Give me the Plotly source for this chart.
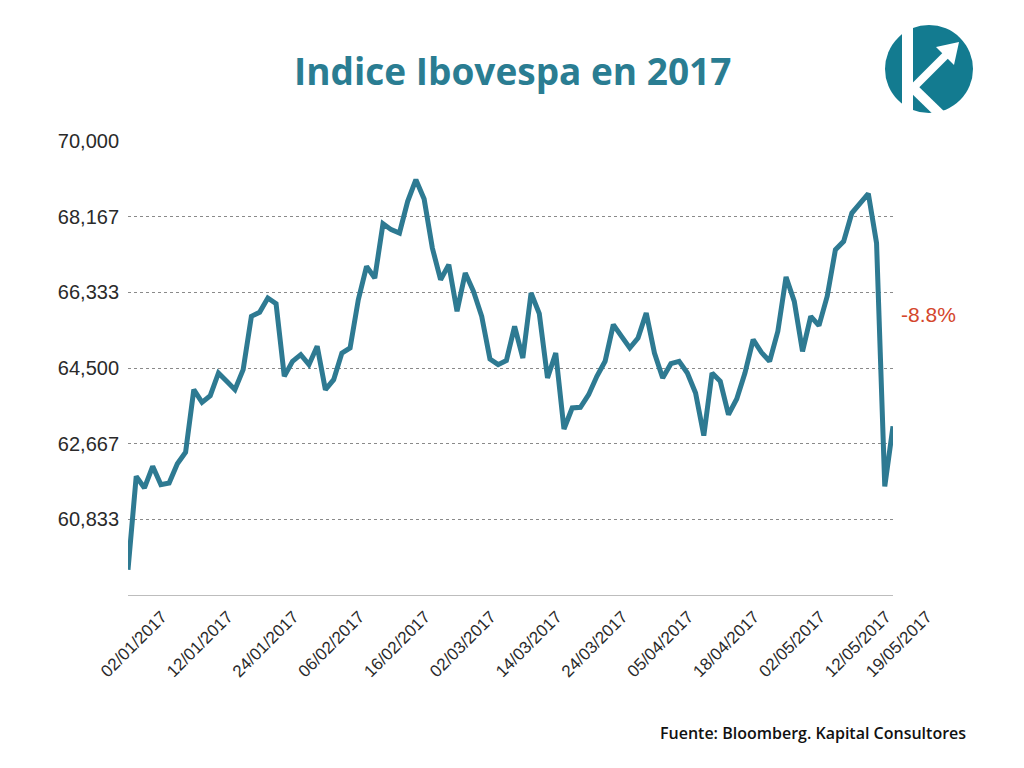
import plotly.graph_objects as go

# ---------------- data ----------------
dates = [
    "02/01/2017", "03/01/2017", "04/01/2017", "05/01/2017", "06/01/2017", "09/01/2017",
    "10/01/2017", "11/01/2017", "12/01/2017", "13/01/2017", "16/01/2017", "17/01/2017",
    "18/01/2017", "19/01/2017", "20/01/2017", "23/01/2017", "24/01/2017", "26/01/2017",
    "27/01/2017", "30/01/2017", "31/01/2017",
    "01/02/2017", "02/02/2017", "03/02/2017", "06/02/2017", "07/02/2017", "08/02/2017",
    "09/02/2017", "10/02/2017", "13/02/2017", "14/02/2017", "15/02/2017", "16/02/2017",
    "17/02/2017", "20/02/2017", "21/02/2017", "22/02/2017", "23/02/2017", "24/02/2017",
    "01/03/2017", "02/03/2017", "03/03/2017", "06/03/2017", "07/03/2017", "08/03/2017",
    "09/03/2017", "10/03/2017", "13/03/2017", "14/03/2017", "15/03/2017", "16/03/2017",
    "17/03/2017", "20/03/2017", "21/03/2017", "22/03/2017", "23/03/2017", "24/03/2017",
    "27/03/2017", "28/03/2017", "29/03/2017", "30/03/2017", "31/03/2017",
    "03/04/2017", "04/04/2017", "05/04/2017", "06/04/2017", "07/04/2017", "10/04/2017",
    "11/04/2017", "12/04/2017", "13/04/2017", "17/04/2017", "18/04/2017", "19/04/2017",
    "20/04/2017", "24/04/2017", "25/04/2017", "26/04/2017", "27/04/2017", "28/04/2017",
    "02/05/2017", "03/05/2017", "04/05/2017", "05/05/2017", "08/05/2017", "09/05/2017",
    "10/05/2017", "11/05/2017", "12/05/2017", "15/05/2017", "16/05/2017", "17/05/2017",
    "18/05/2017", "19/05/2017",
]

ibovespa = [
    59614, 61875, 61593, 62118, 61673, 61714, 62182, 62457, 63975, 63668,
    63830, 64379, 64177, 63975, 64460, 65752, 65849, 66196, 66059, 64298,
    64662, 64823, 64581, 65025, 63975, 64217, 64863, 64985, 66156, 66963,
    66680, 67997, 67852, 67771, 68538, 69063, 68595, 67407, 66640, 67004,
    65873, 66802, 66358, 65752, 64718, 64581, 64682, 65510, 64742, 66317,
    65816, 64258, 64863, 63022, 63531, 63547, 63854, 64298, 64662, 65550,
    65267, 64985, 65227, 65833, 64863, 64258, 64605, 64662, 64379, 63894,
    62861, 64379, 64177, 63369, 63749, 64379, 65186, 64880, 64662, 65388,
    66705, 66115, 64904, 65752, 65526, 66237, 67367, 67569, 68255, 68514,
    68724, 67529, 61633, 63087,
]

x_tick_labels = [
    "02/01/2017", "12/01/2017", "24/01/2017", "06/02/2017", "16/02/2017",
    "02/03/2017", "14/03/2017", "24/03/2017", "05/04/2017", "18/04/2017",
    "02/05/2017", "12/05/2017", "19/05/2017",
]

y_tick_values = [60833.33, 62666.67, 64500, 66333.33, 68166.67, 70000]
y_tick_labels = ["60,833", "62,667", "64,500", "66,333", "68,167", "70,000"]
y_range = [59000, 70000]

title_text = "Indice Ibovespa en 2017"
change_text = "-8.8%"
source_text = "Fuente: Bloomberg. Kapital Consultores"

# ---------------- layout geometry ----------------
W, H = 1024, 768
L, R, T, B = 128, 131, 141, 173
PW, PH = W - L - R, H - T - B


def px(x):
    return (x - L) / PW


def py(y):
    return (H - B - y) / PH


TEAL = "#2e7a92"
LOGO = "#137b90"

fig = go.Figure()
fig.add_trace(go.Scatter(
    x=dates, y=ibovespa, mode="lines",
    line=dict(color=TEAL, width=5),
    cliponaxis=False, showlegend=False, hoverinfo="x+y",
))

fig.update_layout(
    width=W, height=H,
    margin=dict(l=L, r=R, t=T, b=B, pad=0),
    paper_bgcolor="white", plot_bgcolor="white",
    font=dict(family="Liberation Sans, Arial, sans-serif", color="#222222"),
    xaxis=dict(
        type="category",
        range=[0, len(dates) - 1],
        tickmode="array", tickvals=x_tick_labels, ticktext=x_tick_labels,
        tickangle=-45, tickfont=dict(size=17, color="#2a2a2a"),
        ticklabelshift=34, ticklabelstandoff=4,
        showgrid=False, zeroline=False,
        showline=True, linecolor="#bdbdbd", linewidth=1.2,
        ticks="",
    ),
    yaxis=dict(
        range=y_range,
        tickmode="array", tickvals=y_tick_values, ticktext=y_tick_labels,
        tickfont=dict(size=20, color="#2a2a2a"),
        showgrid=True, gridcolor="#8a8a8a", gridwidth=1, griddash="dot",
        zeroline=False, showline=False, ticks="", ticklabelstandoff=8,
    ),
)

annotations = [
    dict(text=f"<b>{title_text}</b>", x=px(512), y=py(70), xref="paper", yref="paper",
         showarrow=False, xanchor="center", yanchor="middle",
         font=dict(family="Open Sans, sans-serif", size=37, color="#2a7d92")),
    dict(text=change_text, x=px(899), y=py(314), xref="paper", yref="paper",
         showarrow=False, xanchor="left", yanchor="middle",
         font=dict(family="Liberation Sans, Arial, sans-serif", size=21, color="#d4462c")),
    dict(text=source_text, x=px(968), y=py(733), xref="paper", yref="paper",
         showarrow=False, xanchor="right", yanchor="middle",
         font=dict(family="Open Sans, sans-serif", size=16, color="#111111", weight=600)),
]
fig.update_layout(annotations=annotations)

# ---------------- logo ----------------
shapes = [
    dict(type="circle", xref="paper", yref="paper",
         x0=px(885), x1=px(973), y0=py(113), y1=py(25),
         fillcolor=LOGO, line=dict(width=0)),
    dict(type="rect", xref="paper", yref="paper",
         x0=px(902), x1=px(913), y0=py(118), y1=py(20),
         fillcolor="white", line=dict(width=0)),
    dict(type="line", xref="paper", yref="paper",
         x0=px(911), y0=py(86), x1=px(946), y1=py(120),
         line=dict(color="white", width=10)),
    dict(type="line", xref="paper", yref="paper",
         x0=px(911), y0=py(90), x1=px(947), y1=py(54),
         line=dict(color="white", width=8)),
    dict(type="path", xref="paper", yref="paper",
         path=f"M {px(959)},{py(42)} L {px(936)},{py(47)} L {px(954)},{py(65)} Z",
         fillcolor="white", line=dict(width=0)),
]
fig.update_layout(shapes=shapes)

fig.write_html(
    "out.html",
    config={"displayModeBar": False},
    post_script="document.body.style.margin='0px';document.body.style.overflow='hidden';",
)
